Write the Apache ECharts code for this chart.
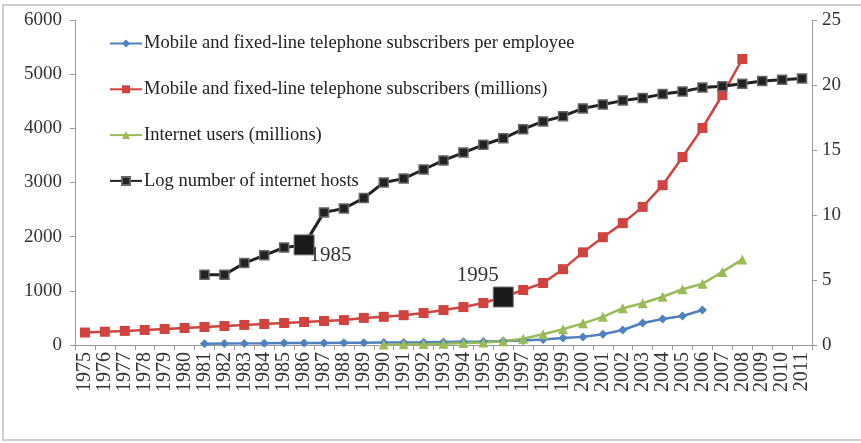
<!DOCTYPE html>
<html>
<head>
<meta charset="utf-8">
<script src="https://cdn.jsdelivr.net/npm/echarts@6/dist/echarts.min.js"></script>
<style>html,body{margin:0;padding:0;background:#fff}#c{width:861px;height:443px}</style>
</head>
<body>
<div id="c"></div>
<script>
const years = ['1975','1976','1977','1978','1979','1980','1981','1982','1983','1984','1985','1986','1987','1988','1989','1990','1991','1992','1993','1994','1995','1996','1997','1998','1999','2000','2001','2002','2003','2004','2005','2006','2007','2008','2009','2010','2011'];
const seriesNames = ['Mobile and fixed-line telephone subscribers per employee','Mobile and fixed-line telephone subscribers (millions)','Internet users (millions)','Log number of internet hosts'];
const perEmployee = [null,null,null,null,null,null,25,28,30,32,35,37,38,40,42,45,48,50,55,60,65,72,85,100,130,150,200,277,406,480,535,646,null,null,null,null,null];
const subscribers = [230,245,260,277,295,314,332,350,370,388,406,425,443,460,500,520,550,590,645,700,775,886,1015,1145,1400,1710,1990,2250,2550,2950,3470,4006,4615,5280,null,null,null];
const internetUsers = [null,null,null,null,null,null,null,null,null,null,null,null,null,null,null,8,12,18,25,35,45,70,115,200,290,400,520,680,770,890,1030,1130,1350,1580,null,null,null];
const logHosts = [null,null,null,null,null,null,5.4,5.4,6.3,6.9,7.5,7.7,10.2,10.5,11.3,12.5,12.8,13.5,14.2,14.8,15.4,15.9,16.6,17.2,17.6,18.2,18.5,18.8,19.0,19.3,19.5,19.8,19.9,20.1,20.3,20.4,20.5];
const leftTicks = [0,1000,2000,3000,4000,5000,6000];
const rightTicks = [0,5,10,15,20,25];
const annotations = [{series:3, year:'1986', text:'1985'},{series:1, year:'1996', text:'1995'}];

const serif = '"Liberation Serif","Times New Roman",serif';
const colors = ['#4F81BD','#D0433F','#9BBB59','#222222'];
const symbols = ['diamond','rect','triangle','rect'];
const sizes = [9,10,10,9];
const raw = [perEmployee, subscribers, internetUsers, logHosts];

function buildData(si){
  return raw[si].map((v,i)=>{
    const a = annotations.find(a=>a.series===si && a.year===years[i]);
    if(!a || v===null) return v;
    const isTop = si===1;
    return {
      value:v,
      symbol:'rect',
      symbolSize:20,
      itemStyle:{color:'#1a1a1a', borderColor:'#777', borderWidth:1},
      label:{show:true, formatter:a.text, fontFamily:serif, fontSize:21, color:'#333',
        position: isTop ? [6,-1] : [16,11],
        align: isTop ? 'right' : 'left',
        verticalAlign: isTop ? 'bottom' : 'top'}
    };
  });
}

const chart = echarts.init(document.getElementById('c'));
chart.setOption({
  animation:false,
  backgroundColor:'#fff',
  graphic:[{type:'rect', shape:{x:3,y:5,width:870,height:435}, style:{fill:'none', stroke:'#cfcfcf', lineWidth:2}, silent:true}],
  legend:{
    orient:'vertical', left:104, top:29, itemGap:26.8, itemWidth:32, itemHeight:10,
    data:seriesNames,
    textStyle:{fontFamily:serif, fontSize:18.5, color:'#222', padding:[0,0,0,-3]}
  },
  grid:{left:75, right:49, top:20, bottom:98},
  xAxis:{
    type:'category', data:years, boundaryGap:true,
    axisLine:{lineStyle:{color:'#999'}},
    axisTick:{show:true, interval:0, lineStyle:{color:'#999'}, length:5},
    axisLabel:{interval:0, rotate:90, fontFamily:serif, fontSize:20, color:'#333', margin:7}
  },
  yAxis:[
    {type:'value', min:leftTicks[0], max:leftTicks[leftTicks.length-1], interval:1000,
     axisLine:{show:true, lineStyle:{color:'#999'}}, axisTick:{show:true, lineStyle:{color:'#999'}, length:5},
     splitLine:{show:false},
     axisLabel:{fontFamily:serif, fontSize:19, color:'#333', margin:13, formatter:v=>String(v)}},
    {type:'value', min:rightTicks[0], max:rightTicks[rightTicks.length-1], interval:5, position:'right',
     axisLine:{show:true, lineStyle:{color:'#999'}}, axisTick:{show:true, lineStyle:{color:'#999'}, length:5},
     splitLine:{show:false},
     axisLabel:{fontFamily:serif, fontSize:19, color:'#333', margin:10, formatter:v=>String(v)}}
  ],
  series: seriesNames.map((n,si)=>({
    name:n, type:'line', yAxisIndex: si===3 ? 1 : 0,
    data: buildData(si),
    symbol: symbols[si], symbolSize: sizes[si], showAllSymbol:true,
    lineStyle:{color:colors[si], width: si===3 ? 3 : 2.5},
    itemStyle:{color:colors[si], borderColor: si===3 ? '#666' : colors[si], borderWidth: si===3 ? 1.5 : 0},
    z: si===3 ? 3 : 2
  }))
});
</script>
</body>
</html>
